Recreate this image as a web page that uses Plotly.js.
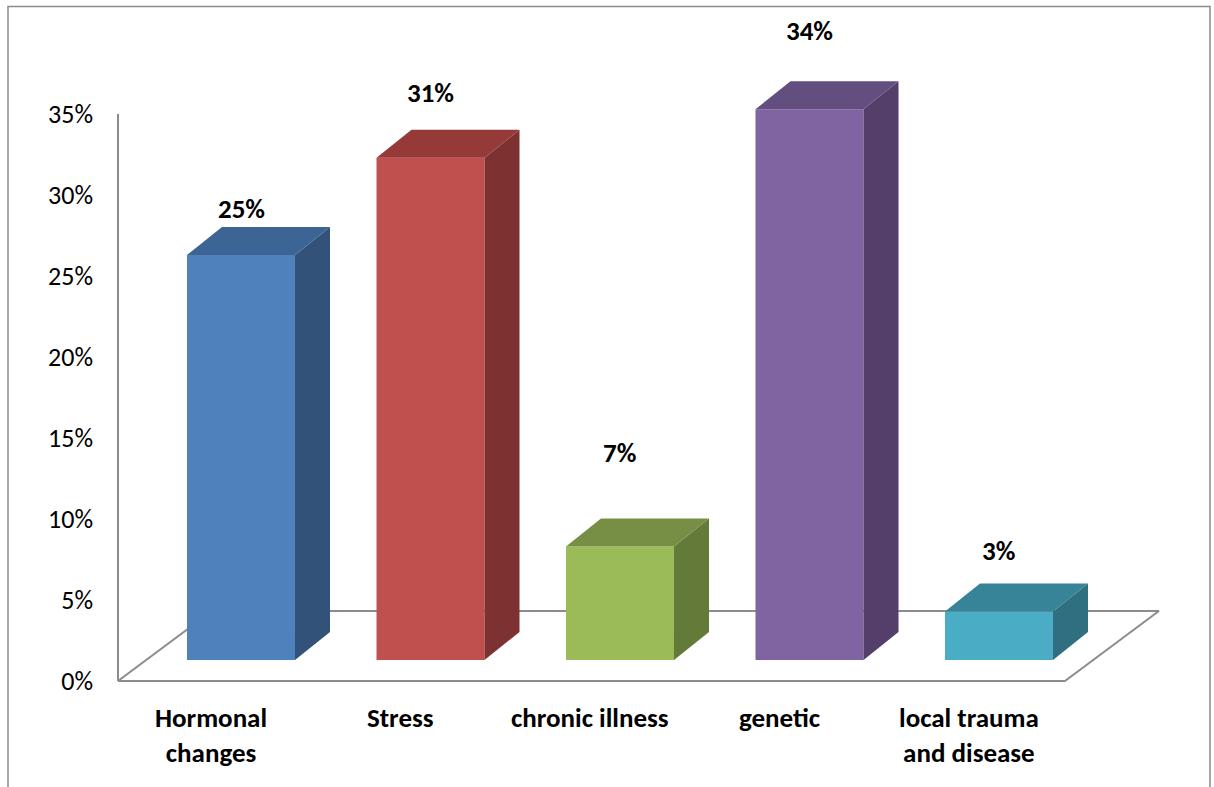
<!DOCTYPE html>
<html>
<head>
<meta charset="utf-8">
<script src="https://cdn.plot.ly/plotly-3.0.1.min.js"></script>
<style>html,body{margin:0;padding:0;background:#fff;}#chart{width:1214px;height:787px;}</style>
</head>
<body>
<div id="chart"></div>
<script>
// ---- data ----
var categories = ["Hormonal<br>changes", "Stress", "chronic illness", "genetic", "local trauma<br>and disease"];
var values = [25, 31, 7, 34, 3];
var valueLabels = ["25%", "31%", "7%", "34%", "3%"];
var yTicks = [0, 5, 10, 15, 20, 25, 30, 35];
var yTickText = ["0%", "5%", "10%", "15%", "20%", "25%", "30%", "35%"];

// ---- styling ----
var frontColors = ["#4F81BD", "#C0504D", "#9BBB59", "#8064A2", "#4BACC6"];
var sideColors  = ["#32527A", "#7D3231", "#647A39", "#533F6A", "#306F80"];
var topColors   = ["#3C6494", "#953A38", "#778F45", "#634E80", "#378397"];
var labelShiftPx = [47, 65, 94, 79, 61];
var FONT = "Carlito, Lato, 'Open Sans', sans-serif";
var barWidth = 0.57;
var depthX = 0.1847;   // data units along x
var depthY = 1.728;    // percent units along y
var floorDepthX = 0.496, floorDepthY = 4.32;
var xMin = -0.6491, xMax = 5.0607;
var floorRight = 4.348;

var traces = [];
// floor outline (main y axis)
traces.push({
  type: "scatter", mode: "lines", xaxis: "x", yaxis: "y",
  x: [xMin, floorRight, floorRight + floorDepthX, xMin + floorDepthX, xMin],
  y: [0, 0, floorDepthY, floorDepthY, 0],
  line: {color: "#8C8C8C", width: 2}, hoverinfo: "skip", showlegend: false
});

var idx = categories.map(function(_, i){ return i; });
idx.forEach(function(i){
  var v = values[i];
  var l = i - barWidth / 2, r = i + barWidth / 2;
  // side face
  traces.push({
    type: "scatter", mode: "lines", xaxis: "x", yaxis: "y2",
    x: [r, r + depthX, r + depthX, r, r],
    y: [0, depthY, v + depthY, v, 0],
    fill: "toself", fillcolor: sideColors[i], line: {width: 0, color: sideColors[i]},
    hoverinfo: "skip", showlegend: false
  });
  // top face
  traces.push({
    type: "scatter", mode: "lines", xaxis: "x", yaxis: "y2",
    x: [l, l + depthX, r + depthX, r, l],
    y: [v, v + depthY, v + depthY, v, v],
    fill: "toself", fillcolor: topColors[i], line: {width: 0, color: topColors[i]},
    hoverinfo: "skip", showlegend: false
  });
});
// front faces
traces.push({
  type: "bar", xaxis: "x", yaxis: "y2",
  x: idx, y: values, width: barWidth,
  marker: {color: frontColors, line: {width: 0}},
  hoverinfo: "skip", showlegend: false
});

var annotations = [];
idx.forEach(function(i){
  annotations.push({
    xref: "x", yref: "y2", x: i, y: values[i], text: "<b>" + valueLabels[i] + "</b>",
    showarrow: false, yanchor: "middle", xanchor: "center", yshift: labelShiftPx[i],
    font: {family: FONT, size: 27, color: "#000"}
  });
  annotations.push({
    xref: "x", yref: "paper", x: i - 0.158, y: (700 - 699) / 690, text: "<b>" + categories[i] + "</b>",
    showarrow: false, yanchor: "top", xanchor: "center",
    font: {family: FONT, size: 27, color: "#000"}
  });
});

var layout = {
  width: 1214, height: 787,
  margin: {l: 118, r: 14, t: 10, b: 87},
  paper_bgcolor: "#fff", plot_bgcolor: "rgba(0,0,0,0)",
  font: {family: FONT, color: "#000"},
  showlegend: false,
  xaxis: {range: [xMin, xMax], visible: false, fixedrange: true},
  yaxis: {
    range: [-1.1728, 41.42], tickmode: "array", tickvals: yTicks, ticktext: yTickText,
    showgrid: false, zeroline: false, showline: false, ticks: "",
    ticklabelstandoff: 24, tickfont: {family: FONT, size: 26, color: "#000"}, fixedrange: true
  },
  yaxis2: {range: [-2.469, 40.123], overlaying: "y", visible: false, fixedrange: true},
  annotations: annotations,
  shapes: [
    {type: "line", xref: "paper", yref: "y", x0: 0, x1: 0, y0: 0, y1: 35,
     line: {color: "#8C8C8C", width: 2}, layer: "below"},
    {type: "rect", xref: "paper", yref: "paper",
     x0: (8 - 118) / 1082, x1: (1210 - 118) / 1082, y0: (700 - 800) / 690, y1: (700 - 6.5) / 690,
     line: {color: "#8A8A8A", width: 1.5}, fillcolor: "rgba(0,0,0,0)", layer: "above"}
  ]
};

Plotly.newPlot("chart", traces, layout, {displayModeBar: false, staticPlot: true});
</script>
</body>
</html>
